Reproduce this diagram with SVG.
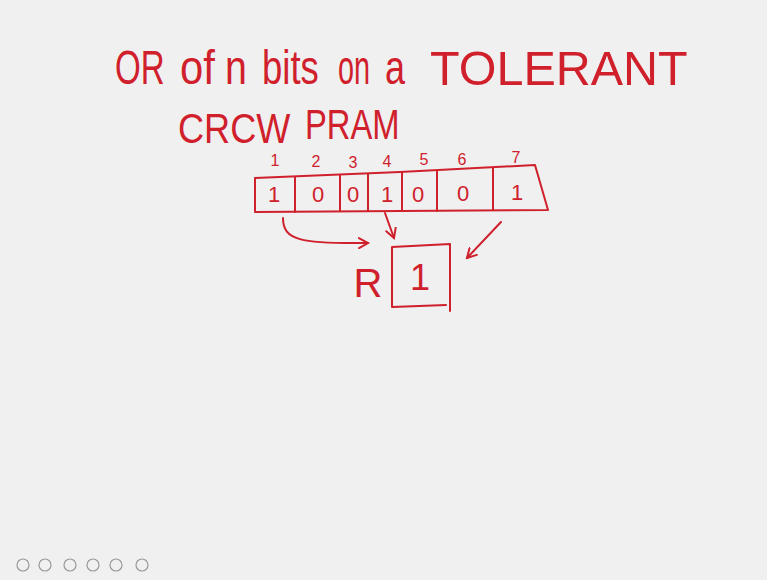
<svg xmlns="http://www.w3.org/2000/svg" width="767" height="580" viewBox="0 0 767 580">
<style>
.t{font-family:"Liberation Sans",Arial,sans-serif;fill:#d0202c;}
.ln{fill:none;stroke:#d0202c;stroke-width:2;stroke-linecap:round;stroke-linejoin:round;}
.ic{fill:none;stroke:#9a9a9a;stroke-width:1.2;}
</style>
<defs>
<marker id="ah" viewBox="0 0 12 12" refX="10" refY="6" markerWidth="12" markerHeight="12" markerUnits="userSpaceOnUse" orient="auto">
<path d="M1,1 L10,6 L1,11" fill="none" stroke="#d0202c" stroke-width="2" stroke-linecap="round"/>
</marker>
</defs>
<rect width="767" height="580" fill="#f0f0f0"/>
<g id="title" class="t" font-size="48">
<text transform="translate(115,84) scale(0.69,1)">OR</text>
<text transform="translate(180,84) scale(0.87,1)">of</text>
<text transform="translate(225,84) scale(0.82,1)">n</text>
<text transform="translate(262,84) scale(0.76,1)">bits</text>
<text transform="translate(338,84) scale(0.6,1)">on</text>
<text transform="translate(385,84) scale(0.75,1)">a</text>
<text transform="translate(430,85) scale(1.01,1)">TOLERANT</text>
</g>
<g id="subtitle" class="t" font-size="42">
<text transform="translate(178,143) scale(0.86,1)">CRCW</text>
<text transform="translate(305,139) scale(0.78,1)">PRAM</text>
</g>
<g id="indices" class="t" font-size="16" text-anchor="middle">
<text x="275" y="166">1</text>
<text x="316" y="167">2</text>
<text x="353" y="168">3</text>
<text x="387" y="167">4</text>
<text x="424" y="165">5</text>
<text x="462" y="165">6</text>
<text x="516" y="163">7</text>
</g>
<g id="array">
<path class="ln" d="M255,178 L400,172 L535,165 L548,210 L255,212 Z"/>
<path class="ln" d="M295,177 L295,212 M340,175 L340,211 M368,174 L368,211 M402,172 L402,211 M437,171 L437,211 M493,168 L493,210"/>
<g class="t" font-size="22" text-anchor="middle">
<text x="274" y="202">1</text>
<text x="318" y="202">0</text>
<text x="353" y="202">0</text>
<text x="387" y="202">1</text>
<text x="418" y="202">0</text>
<text x="463" y="201">0</text>
<text x="517" y="200">1</text>
</g>
</g>
<g id="register">
<path class="ln" d="M392,247 L450,244 L450,311 M392,247 L392,307 L446,305"/>
<text class="t" x="420" y="290" font-size="36" text-anchor="middle">1</text>
<text class="t" x="368" y="297" font-size="40" text-anchor="middle">R</text>
</g>
<g id="connectors">
<path class="ln" d="M283,218 C283,240 300,244 368,243" marker-end="url(#ah)"/>
<path class="ln" d="M385,213 L394,238" marker-end="url(#ah)"/>
<path class="ln" d="M501,222 L467,258" marker-end="url(#ah)"/>
</g>
<g id="toolbar">
<circle class="ic" cx="23" cy="565" r="6"/>
<circle class="ic" cx="45" cy="565" r="6"/>
<circle class="ic" cx="70" cy="565" r="6"/>
<circle class="ic" cx="93" cy="565" r="6"/>
<circle class="ic" cx="116" cy="565" r="6"/>
<circle class="ic" cx="142" cy="565" r="6"/>
</g>
</svg>
